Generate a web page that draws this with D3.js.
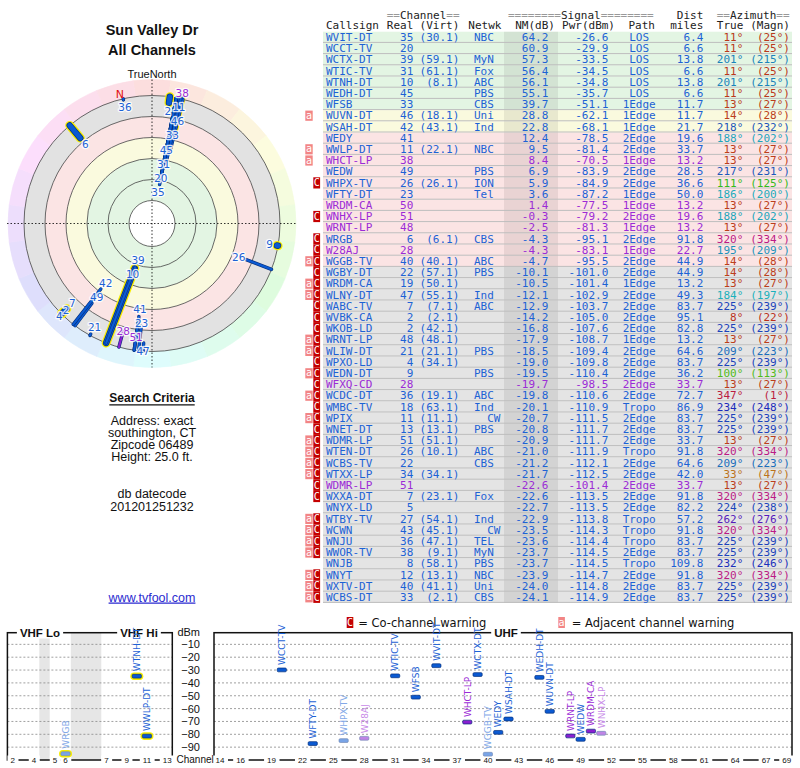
<!DOCTYPE html>
<html>
<head>
<meta charset="utf-8">
<script src="https://cdn.jsdelivr.net/npm/d3@7/dist/d3.min.js"></script>
<style>
  body { margin: 0; background: #fff; }
  svg { display: block; }
</style>
</head>
<body>
<script>
// station rows, in report order (sorted by noise margin)
const callsigns = ['WVIT-DT', 'WCCT-TV', 'WCTX-DT', 'WTIC-TV', 'WTNH-DT', 'WEDH-DT', 'WFSB', 'WUVN-DT', 'WSAH-DT', 'WEDY',
  'WWLP-DT', 'WHCT-LP', 'WEDW', 'WHPX-TV', 'WFTY-DT', 'WRDM-CA', 'WNHX-LP', 'WRNT-LP', 'WRGB', 'W28AJ',
  'WGGB-TV', 'WGBY-DT', 'WRDM-CA', 'WLNY-DT', 'WABC-TV', 'WVBK-CA', 'WKOB-LD', 'WRNT-LP', 'WLIW-DT', 'WPXO-LD',
  'WEDN-DT', 'WFXQ-CD', 'WCDC-DT', 'WMBC-TV', 'WPIX', 'WNET-DT', 'WDMR-LP', 'WTEN-DT', 'WCBS-TV', 'WTXX-LP',
  'WDMR-LP', 'WXXA-DT', 'WNYX-LD', 'WTBY-TV', 'WCWN', 'WNJU', 'WWOR-TV', 'WNJB', 'WNYT', 'WXTV-DT', 'WCBS-DT']
const realCh = [35, 20, 39, 31, 10, 45, 33, 46, 42, 41, 11, 38, 49, 26, 23, 50, 51, 48, 6, 28,
  40, 22, 19, 47, 7, 2, 2, 48, 21, 4, 9, 28, 36, 18, 11, 13, 51, 26, 22, 34, 51, 7, 5, 27, 43, 36, 38, 8, 12, 40, 33]
const virtCh = ['30.1', '', '59.1', '61.1', '8.1', '', '', '18.1', '43.1', '', '22.1', '', '', '26.1', '', '', '', '', '6.1', '',
  '40.1', '57.1', '50.1', '55.1', '7.1', '2.1', '42.1', '48.1', '21.1', '34.1', '', '', '19.1', '63.1', '11.1', '13.1', '51.1', '10.1', '', '34.1',
  '', '23.1', '', '54.1', '45.1', '47.1', '9.1', '58.1', '13.1', '41.1', '2.1']
const networks = ['NBC', '', 'MyN', 'Fox', 'ABC', 'PBS', 'CBS', 'Uni', 'Ind', '', 'NBC', '', 'PBS', 'ION', 'Tel', '', '', '', 'CBS', '',
  'ABC', 'PBS', '', 'Ind', 'ABC', '', '', '', 'PBS', '', 'PBS', '', 'ABC', 'Ind', 'CW', 'PBS', '', 'ABC', 'CBS', '',
  '', 'Fox', '', 'Ind', 'CW', 'TEL', 'MyN', 'PBS', 'NBC', 'Uni', 'CBS']
const nmDb = [64.2, 60.9, 57.3, 56.4, 56.1, 55.1, 39.7, 28.8, 22.8, 12.4, 9.5, 8.4, 6.9, 5.9, 3.6, 1.4, -0.3, -2.5, -4.3, -4.3,
  -4.7, -10.1, -10.5, -12.1, -12.9, -14.2, -16.8, -17.9, -18.5, -19.0, -19.5, -19.7, -19.8, -20.1, -20.7, -20.8, -20.9, -21.0, -21.2, -21.7,
  -22.6, -22.6, -22.7, -22.9, -23.5, -23.6, -23.7, -23.7, -23.9, -24.0, -24.1]
const pwrDbm = [-26.6, -29.9, -33.5, -34.5, -34.8, -35.7, -51.1, -62.1, -68.1, -78.5, -81.4, -70.5, -83.9, -84.9, -87.2, -77.5, -79.2, -81.3, -95.1, -83.1,
  -95.5, -101.0, -101.4, -102.9, -103.7, -105.0, -107.6, -108.7, -109.4, -109.8, -110.4, -98.5, -110.6, -110.9, -111.5, -111.7, -111.7, -111.9, -112.1, -112.5,
  -101.4, -113.5, -113.5, -113.8, -114.3, -114.4, -114.5, -114.5, -114.7, -114.8, -114.9]
const paths = ['LOS', 'LOS', 'LOS', 'LOS', 'LOS', 'LOS', '1Edge', '1Edge', '1Edge', '2Edge', '2Edge', '1Edge', '2Edge', '2Edge', '1Edge', '1Edge', '2Edge', '1Edge', '2Edge', '1Edge',
  '2Edge', '2Edge', '1Edge', '2Edge', '2Edge', '2Edge', '2Edge', '1Edge', '2Edge', '2Edge', '2Edge', '2Edge', '2Edge', 'Tropo', '2Edge', '2Edge', '2Edge', 'Tropo', '2Edge', '2Edge',
  '2Edge', '2Edge', '2Edge', 'Tropo', 'Tropo', 'Tropo', '2Edge', 'Tropo', '2Edge', '2Edge', '2Edge']
const distMi = [6.4, 6.6, 13.8, 6.6, 13.8, 6.6, 11.7, 11.7, 21.7, 19.6, 33.7, 13.2, 28.5, 36.6, 50.0, 13.2, 19.6, 13.2, 91.8, 22.7,
  44.9, 44.9, 13.2, 49.3, 83.7, 95.1, 82.8, 13.2, 64.6, 83.7, 36.2, 33.7, 72.7, 86.9, 83.7, 83.7, 33.7, 91.8, 64.6, 42.0,
  33.7, 91.8, 82.2, 57.2, 91.8, 83.7, 83.7, 109.8, 91.8, 83.7, 83.7]
const azTrue = [11, 11, 201, 11, 201, 11, 13, 14, 218, 188, 13, 13, 217, 111, 186, 13, 188, 13, 320, 195,
  14, 14, 13, 184, 225, 8, 225, 13, 209, 225, 100, 13, 347, 234, 225, 225, 13, 320, 209, 33,
  13, 320, 224, 262, 320, 225, 225, 232, 320, 225, 225]
const azMagn = [25, 25, 215, 25, 215, 25, 27, 28, 232, 202, 27, 27, 231, 125, 200, 27, 202, 27, 334, 209,
  28, 28, 27, 197, 239, 22, 239, 27, 223, 239, 113, 27, 1, 248, 239, 239, 27, 334, 223, 47,
  27, 334, 238, 276, 334, 239, 239, 246, 334, 239, 239]
const warnings = ['', '', '', '', '', '', '', 'a', '', '', 'a', 'a', '', 'C', '', '', 'C', '', 'C', 'C',
  'aC', 'C', 'aC', 'aC', 'C', 'C', 'C', 'aC', 'aC', 'C', 'aC', 'C', 'aC', 'C', 'aC', 'C', 'aC', 'aC', 'aC', 'aC',
  'C', 'C', '', 'aC', 'aC', 'aC', 'aC', '', 'aC', 'aC', 'aC']
const lowPowerRows = [11, 15, 16, 17, 19, 31, 40]

// axis ticks
const polarRings = [80, 60, 40, 20, 0, -20]
const dbmTicks = [-10, -20, -30, -40, -50, -60, -70, -80, -90]
const vhfTicks = [2, 4, 5, 6, 7, 9, 11, 13]
const uhfTicks = [14, 16, 19, 22, 25, 28, 31, 34, 37, 40, 43, 46, 49, 52, 55, 58, 61, 64, 67, 69]

const magneticDecl = 14
const n = callsigns.length

const SANS = "'Liberation Sans', Arial, sans-serif"
const VERA = "'DejaVu Sans', Verdana, sans-serif"
const MONO = "'DejaVu Sans Mono', monospace"
const BLUE = '#1d62d5'
const PURPLE = '#9b2bd6'
const MARK_BLUE = '#0b5ad2'
const MARK_PURPLE = '#8a1fd0'
const OUTLINE = '#06307c'

const isLP = i => lowPowerRows.includes(i)
const isVHF = i => realCh[i] <= 13
const hasCo = i => warnings[i].includes('C')
const textColor = i => (isLP(i) ? PURPLE : BLUE)
const markColor = i => (isLP(i) ? MARK_PURPLE : MARK_BLUE)
const azColor = az => d3.hsl(az, 0.75, 0.42).formatHex()
const zoneOf = nm => (nm >= 35 ? 'green' : nm >= 15 ? 'yellow' : nm >= -8 ? 'pink' : 'gray')
const zoneFill = { green: '#e3f5e3', yellow: '#fafade', pink: '#fbe4e4', gray: '#e4e4e4' }

const svg = d3.select('body').append('svg')
  .attr('width', 800)
  .attr('height', 768)
  .style('font-family', SANS)

// ---------- left column text ----------
const left = svg.append('g').attr('text-anchor', 'middle').attr('fill', '#111')
left.append('text').attr('x', 152).attr('y', 34.5)
  .attr('font-weight', 'bold').attr('font-size', 14.5).text('Sun Valley Dr')
left.append('text').attr('x', 152).attr('y', 55)
  .attr('font-weight', 'bold').attr('font-size', 14.5).text('All Channels')
left.append('text').attr('x', 152).attr('y', 77.5)
  .attr('font-size', 11).text('TrueNorth')

const crit = left.append('text').attr('x', 152).attr('y', 402)
  .attr('font-weight', 'bold').attr('font-size', 12).text('Search Criteria')
const critW = crit.node().getComputedTextLength()
left.append('line')
  .attr('x1', 152 - critW / 2).attr('x2', 152 + critW / 2)
  .attr('y1', 404.8).attr('y2', 404.8)
  .attr('stroke', '#111').attr('stroke-width', 1.3)

const criteriaLines = ['Address: exact', 'southington, CT', 'Zipcode 06489', 'Height: 25.0 ft.']
left.selectAll('text.crit').data(criteriaLines).join('text')
  .attr('class', 'crit')
  .attr('x', 152).attr('y', (_, i) => 424.5 + i * 12.2)
  .attr('font-size', 12.5).text(d => d)
left.append('text').attr('x', 152).attr('y', 498).attr('font-size', 12.5).text('db datecode')
left.append('text').attr('x', 152).attr('y', 510.5).attr('font-size', 12.5).text('201201251232')
left.append('text').attr('x', 152).attr('y', 601.5).attr('font-size', 12.5)
  .attr('fill', '#2a2ad0').style('text-decoration', 'underline').text('www.tvfool.com')

// ---------- polar plot ----------
const cx = 152
const cy = 223.5
const toRad = Math.PI / 180
const rScale = d3.scaleLinear().domain([80, -20]).range([23, 128]).clamp(true)
const polar = (az, r) => [cx + r * Math.sin(az * toRad), cy - r * Math.cos(az * toRad)]

const polarG = svg.append('g')
const dial = polarG.append('g').attr('transform', `translate(${cx},${cy})`)
const arc = d3.arc()

dial.selectAll('path.hue').data(d3.range(0, 360, 15)).join('path')
  .attr('class', 'hue')
  .attr('d', a => arc({ innerRadius: 126, outerRadius: 144, startAngle: (a - 7.5) * toRad, endAngle: (a + 7.5) * toRad }))
  .attr('fill', a => d3.hsl(a, 0.85, 0.93))
  .attr('stroke', a => d3.hsl(a, 0.85, 0.93))
  .attr('stroke-width', 0.6)

const bands = [[80, 40, 'green'], [40, 20, 'yellow'], [20, 0, 'pink'], [0, -20, 'gray']]
dial.selectAll('path.zone').data(bands).join('path')
  .attr('class', 'zone')
  .attr('d', d => arc({ innerRadius: rScale(d[0]), outerRadius: rScale(d[1]), startAngle: 0, endAngle: 2 * Math.PI }))
  .attr('fill', d => (d[2] === 'gray' ? '#e2e2e2' : zoneFill[d[2]]))

dial.selectAll('circle').data(polarRings).join('circle')
  .attr('r', d => rScale(d))
  .attr('fill', 'none')
  .attr('stroke', '#444')
  .attr('stroke-width', 0.8)

dial.append('line').attr('x1', -145).attr('x2', 145)
  .attr('stroke', '#000').attr('stroke-width', 0.8).attr('stroke-dasharray', '1.5,2')
dial.append('line').attr('y1', -144).attr('y2', 144)
  .attr('stroke', '#000').attr('stroke-width', 0.8).attr('stroke-dasharray', '1.5,2')

// only stations inside the -20 dB ring are plotted
const onDial = d3.range(n).filter(i => nmDb[i] >= -20)

// radial bars, weakest first so strong ones sit on top
const marks = polarG.append('g').attr('stroke-linecap', 'round')
onDial.slice().sort((a, b) => nmDb[a] - nmDb[b]).forEach(i => {
  const [x1, y1] = polar(azTrue[i], Math.min(rScale(nmDb[i]), 126.8))
  const [x2, y2] = polar(azTrue[i], 128)
  const w = isVHF(i) ? 5 : 2.2
  const layers = isVHF(i)
    ? [['#f6ec00', w + 4], [OUTLINE, w + 1.4], [markColor(i), w]]
    : [[OUTLINE, w + 1.2], [markColor(i), w]]
  layers.forEach(([c, sw]) => {
    marks.append('line')
      .attr('x1', x1).attr('y1', y1).attr('x2', x2).attr('y2', y2)
      .attr('stroke', c).attr('stroke-width', sw)
  })
})

// magnetic north marker
const [mnx, mny] = polar(360 - magneticDecl, 133)
polarG.append('text').attr('x', mnx).attr('y', mny)
  .attr('text-anchor', 'middle').attr('dominant-baseline', 'central')
  .attr('font-family', VERA).attr('font-size', 11).attr('fill', '#e01010').text('N')

// channel labels, pushed outward until they do not collide
const placed = []
onDial.slice().sort((a, b) => nmDb[b] - nmDb[a]).forEach(i => {
  const txt = String(realCh[i])
  const w = txt.length * 6.4
  const h = 14
  for (let r = rScale(nmDb[i]) - 8; r <= 143; r += 0.5) {
    const [x, y] = polar(azTrue[i], r)
    const free = placed.every(p => Math.abs(p.x - x) >= (p.w + w) / 2 || Math.abs(p.y - y) >= (p.h + h) / 2)
    if (free) {
      placed.push({ x, y, w, h, i, txt })
      break
    }
  }
})
polarG.append('g').selectAll('text').data(placed).join('text')
  .attr('x', d => d.x).attr('y', d => d.y)
  .attr('text-anchor', 'middle').attr('dominant-baseline', 'central')
  .attr('font-family', VERA).attr('font-size', 10.5)
  .attr('fill', d => textColor(d.i))
  .attr('stroke', '#fff').attr('stroke-width', 2.6).attr('stroke-opacity', 0.85)
  .attr('stroke-linejoin', 'round')
  .attr('paint-order', 'stroke')
  .text(d => d.txt)

// ---------- table ----------
const rowH = 11.2
const rowTop = i => 31.7 + i * rowH
const charW = 6.62
const tbl = svg.append('g').attr('font-family', MONO).attr('font-size', 11)

tbl.selectAll('rect.rowbg').data(d3.range(n)).join('rect')
  .attr('class', 'rowbg')
  .attr('x', 323).attr('width', 469)
  .attr('y', i => rowTop(i)).attr('height', rowH)
  .attr('fill', i => zoneFill[zoneOf(nmDb[i])])
tbl.append('rect')
  .attr('x', 504).attr('width', 54)
  .attr('y', rowTop(0)).attr('height', n * rowH)
  .attr('fill', 'rgba(0,0,0,0.07)')
tbl.selectAll('line.rowline').data(d3.range(n)).join('line')
  .attr('class', 'rowline')
  .attr('x1', 323).attr('x2', 792)
  .attr('y1', i => rowTop(i + 1) - 0.5).attr('y2', i => rowTop(i + 1) - 0.5)
  .attr('stroke', '#bdbdbd').attr('stroke-width', 1)

// warning flags
d3.range(n).forEach(i => {
  if (warnings[i].includes('a')) {
    tbl.append('rect').attr('x', 305.3).attr('y', rowTop(i) + 0.5).attr('width', 7.4).attr('height', rowH - 1)
      .attr('fill', '#f28585')
    tbl.append('text').attr('x', 309).attr('y', rowTop(i) + 8.6).attr('text-anchor', 'middle')
      .attr('font-size', 10).attr('fill', '#fff').text('a')
  }
  if (warnings[i].includes('C')) {
    tbl.append('rect').attr('x', 313.3).attr('y', rowTop(i)).attr('width', 6.8).attr('height', rowH)
      .attr('fill', '#c40000')
    tbl.append('text').attr('x', 316.7).attr('y', rowTop(i) + 8.8).attr('text-anchor', 'middle')
      .attr('font-size', 10).attr('fill', '#fff').text('C')
  }
})

// header
const hdr = tbl.append('g').attr('fill', '#222')
const header1 = [
  { x: 386.7, parts: ['==', 'Channel', '=='] },
  { x: 508, parts: ['========', 'Signal', '========'] },
  { x: 716.7, parts: ['==', 'Azimuth', '=='] },
]
header1.forEach(h => {
  const t = hdr.append('text').attr('x', h.x).attr('y', 18.8)
  h.parts.forEach((p, k) => t.append('tspan').attr('fill', k === 1 ? '#222' : '#999').text(p))
})
hdr.append('text').attr('x', 703.3).attr('y', 18.8).attr('text-anchor', 'end').text('Dist')
const header2 = [
  ['Callsign', 326, 'start'], ['Real', 413.3, 'end'], ['(Virt)', 459.3, 'end'], ['Netwk', 468.3, 'start'],
  ['NM(dB)', 555, 'end'], ['Pwr(dBm)', 615, 'end'], ['Path', 655, 'end'], ['miles', 703.3, 'end'],
  ['True', 743.3, 'end'], ['(Magn)', 790, 'end'],
]
hdr.selectAll('text.h2').data(header2).join('text')
  .attr('class', 'h2')
  .attr('x', d => d[1]).attr('y', 29.2)
  .attr('text-anchor', d => d[2])
  .text(d => d[0])

// cells
const columns = [
  { x: 326, anchor: 'start', text: i => callsigns[i] },
  { x: 413.3, anchor: 'end', text: i => realCh[i] },
  { x: 459.3, anchor: 'end', text: i => (virtCh[i] ? `(${virtCh[i]})` : '') },
  { x: i => 474 + (networks[i].length < 3 ? 2 * charW : 0), anchor: 'start', text: i => networks[i] },
  { x: 548.3, anchor: 'end', text: i => nmDb[i].toFixed(1) },
  { x: 608.3, anchor: 'end', text: i => pwrDbm[i].toFixed(1) },
  { x: 639.2, anchor: 'middle', text: i => paths[i] },
  { x: 703.3, anchor: 'end', text: i => distMi[i].toFixed(1) },
  { x: 743.3, anchor: 'end', text: i => `${azTrue[i]}°`, color: i => azColor(azTrue[i]) },
  { x: 790, anchor: 'end', text: i => `(${azMagn[i]}°)`, color: i => azColor(azTrue[i]) },
]
const cells = tbl.append('g')
columns.forEach(col => {
  cells.append('g').selectAll('text').data(d3.range(n)).join('text')
    .attr('x', i => (typeof col.x === 'function' ? col.x(i) : col.x))
    .attr('y', i => rowTop(i) + 9.2)
    .attr('text-anchor', col.anchor)
    .attr('fill', i => (col.color ? col.color(i) : textColor(i)))
    .text(col.text)
})

// legend
const leg = svg.append('g').attr('font-family', VERA).attr('font-size', 11.5)
leg.append('rect').attr('x', 346.7).attr('y', 617).attr('width', 6.6).attr('height', 11).attr('fill', '#c40000')
leg.append('text').attr('x', 350).attr('y', 626).attr('text-anchor', 'middle')
  .attr('font-family', MONO).attr('font-size', 10).attr('fill', '#fff').text('C')
leg.append('text').attr('x', 358.3).attr('y', 627).attr('fill', '#111').text('= Co-channel warning')
leg.append('rect').attr('x', 558.3).attr('y', 617).attr('width', 6.6).attr('height', 11).attr('fill', '#f28585')
leg.append('text').attr('x', 561.6).attr('y', 626).attr('text-anchor', 'middle')
  .attr('font-family', MONO).attr('font-size', 10).attr('fill', '#fff').text('a')
leg.append('text').attr('x', 571.7).attr('y', 627).attr('fill', '#111').text('= Adjacent channel warning')

// ---------- spectrum panels ----------
const frameTop = 632.7
const frameBottom = 760
const dbmY = d3.scaleLinear().domain([0, -100]).range([631.5, 760])
const chFreq = ch => (ch <= 4 ? 57 + 6 * (ch - 2) : ch <= 6 ? 79 + 6 * (ch - 5) : 177 + 6 * (ch - 7))
const vhfX = d3.scaleLinear().domain([54, 72, 76, 88, 174, 216]).range([7.4, 39.3, 49.7, 70.8, 101.3, 172.3])
const uhfX = d3.scaleLinear().domain([14, 69]).range([220, 786.7])
const chX = ch => (ch <= 13 ? vhfX(chFreq(ch)) : uhfX(ch))

const spec = svg.append('g')

// gaps in the VHF band plan
spec.selectAll('rect.gap').data([[72, 76], [88, 174]]).join('rect')
  .attr('class', 'gap')
  .attr('x', d => vhfX(d[0])).attr('width', d => vhfX(d[1]) - vhfX(d[0]))
  .attr('y', frameTop).attr('height', frameBottom - frameTop)
  .attr('fill', '#e6e6e6')

const panels = [[7.4, 172.3], [214, 792]]
panels.forEach(([x0, x1]) => {
  spec.append('g').selectAll('line').data(dbmTicks).join('line')
    .attr('x1', x0).attr('x2', x1)
    .attr('y1', d => dbmY(d)).attr('y2', d => dbmY(d))
    .attr('stroke', '#888').attr('stroke-width', 0.8).attr('stroke-dasharray', '2,2')
  spec.append('rect')
    .attr('x', x0).attr('y', frameTop).attr('width', x1 - x0).attr('height', frameBottom - frameTop)
    .attr('fill', 'none').attr('stroke', '#111').attr('stroke-width', 1.5)
})

// labels sitting on the frame lines, with a white backing
function frameLabel(g, x, y, txt, size, weight, anchor) {
  const t = g.append('text').attr('x', x).attr('y', y)
    .attr('text-anchor', anchor || 'middle').attr('font-size', size)
    .attr('font-weight', weight || 'normal').attr('fill', '#111').text(txt)
  const b = t.node().getBBox()
  g.insert('rect', () => t.node())
    .attr('x', b.x - 3).attr('y', b.y).attr('width', b.width + 6).attr('height', b.height)
    .attr('fill', '#fff')
}
const flabels = spec.append('g')
frameLabel(flabels, 40, 636.5, 'VHF Lo', 11.5, 'bold')
frameLabel(flabels, 139, 636.5, 'VHF Hi', 11.5, 'bold')
frameLabel(flabels, 506, 636.5, 'UHF', 11.5, 'bold')
vhfTicks.forEach(ch => frameLabel(flabels, vhfX(chFreq(ch)), 762.5, String(ch), 8))
uhfTicks.forEach(ch => frameLabel(flabels, uhfX(ch), 762.5, String(ch), 8))
spec.append('text').attr('x', 176.5).attr('y', 763).attr('font-size', 10).attr('fill', '#111').text('Channel')

// dBm axis between the two panels
const yAxis = spec.append('g').attr('transform', 'translate(200,0)')
  .call(d3.axisLeft(dbmY).tickValues(dbmTicks).tickSize(0).tickPadding(0))
yAxis.select('.domain').remove()
yAxis.selectAll('text').attr('font-family', SANS).attr('font-size', 11).attr('fill', '#111')
spec.append('text').attr('x', 200).attr('y', 636).attr('text-anchor', 'end')
  .attr('font-size', 11).attr('fill', '#111').text('dBm')

// station marks in the spectrum
const shown = d3.range(n).filter(i => zoneOf(nmDb[i]) !== 'gray')
const fade = (c, i) => (hasCo(i) ? d3.interpolateRgb(c, '#ffffff')(0.45) : c)
const smarks = spec.append('g')
shown.sort((a, b) => nmDb[a] - nmDb[b]).forEach(i => {
  const x = chX(realCh[i])
  const y = dbmY(pwrDbm[i])
  if (isVHF(i)) {
    smarks.append('rect').attr('x', x - 6.5).attr('y', y - 3.8).attr('width', 13).attr('height', 7.6)
      .attr('rx', 3.8).attr('fill', '#f6ec00')
  }
  smarks.append('rect').attr('x', x - 4.6).attr('y', y - 1.9).attr('width', 9.2).attr('height', 3.8)
    .attr('rx', 1.2)
    .attr('fill', fade(markColor(i), i))
    .attr('stroke', fade(OUTLINE, i)).attr('stroke-width', 0.7)
  smarks.append('text')
    .attr('transform', `translate(${x + 3.3},${y - 5}) rotate(-90)`)
    .attr('font-family', VERA).attr('font-size', 9)
    .attr('fill', fade(textColor(i), i))
    .text(callsigns[i])
})
</script>
</body>
</html>
